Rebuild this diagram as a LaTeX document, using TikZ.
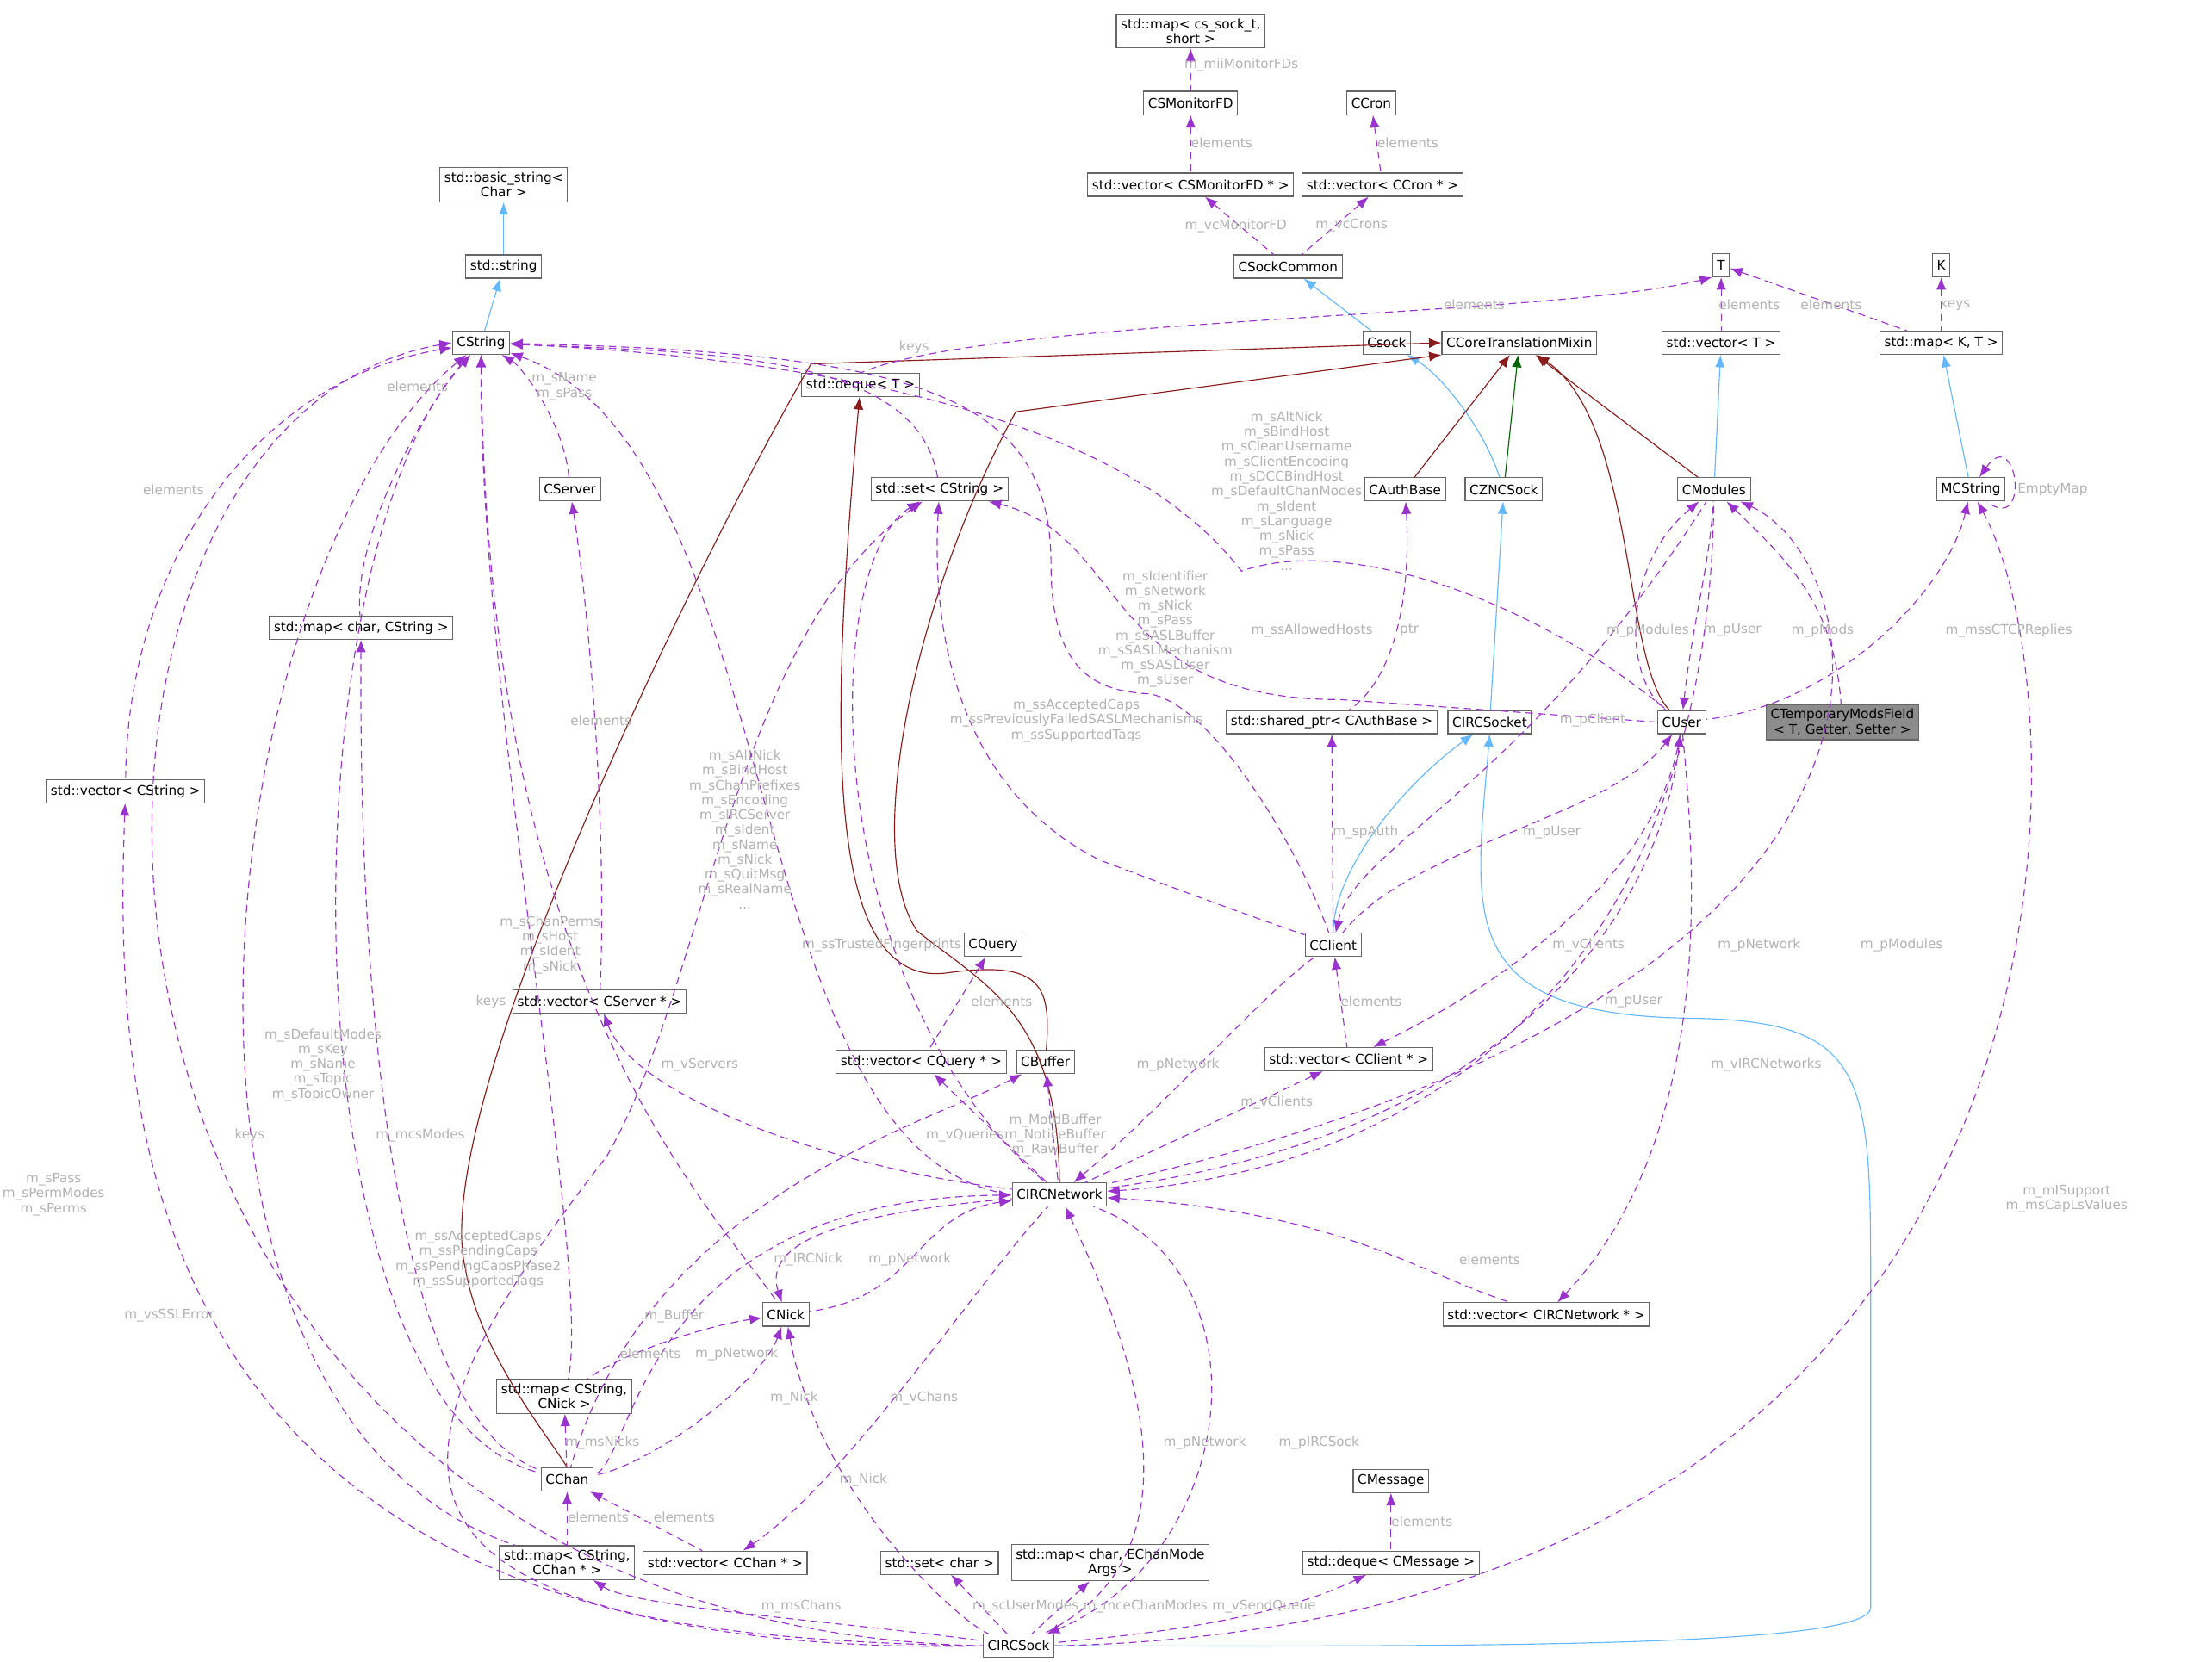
\documentclass[tikz,border=0pt]{standalone}
\usepackage{fontspec}
\setmainfont{DejaVu Sans}
\usetikzlibrary{arrows.meta}
\definecolor{usecol}{HTML}{9A32CD}
\definecolor{inhcol}{HTML}{63B8FF}
\definecolor{tplcol}{HTML}{8B1A1A}
\definecolor{grncol}{HTML}{006400}
\tikzset{
  cls/.style={draw=black!60, fill=white, font=\fontsize{5.3}{6}\selectfont, inner sep=1.8pt, minimum height=0.33cm, align=center},
  lbl/.style={text=black!30, font=\fontsize{5.3}{6}\selectfont, align=center, inner sep=0.5pt},
  tip/.style={{Latex[length=5pt,width=4pt]}-},
  use/.style={tip, usecol, dashed, dash pattern=on 3pt off 2pt, thin},
  inh/.style={tip, inhcol, thin},
  tpl/.style={tip, tplcol, thin},
}
\begin{document}
\begin{tikzpicture}[x=0.02cm, y=-0.02cm]
  \useasboundingbox (0,0) rectangle (1568,1178);

  % classes
  \node[cls] (mapcs) at (844,22) {std::map< cs\_sock\_t,\\ short >};
  \node[cls] (monfd) at (844,73) {CSMonitorFD};
  \node[cls] (ccron) at (972,73) {CCron};
  \node[cls] (vecmon) at (844,131) {std::vector< CSMonitorFD * >};
  \node[cls] (veccron) at (980,131) {std::vector< CCron * >};
  \node[cls] (sockcommon) at (913,189) {CSockCommon};
  \node[cls] (T) at (1220,188) {T};
  \node[cls] (K) at (1376,188) {K};
  \node[cls] (basic) at (357,131) {std::basic\_string<\\ Char >};
  \node[cls] (stdstr) at (357,189) {std::string};
  \node[cls] (cstring) at (341,243) {CString};
  \node[cls] (csock) at (983,243) {Csock};
  \node[cls] (ccore) at (1077,243) {CCoreTranslationMixin};
  \node[cls] (vect) at (1220,243) {std::vector< T >};
  \node[cls] (mapkt) at (1376,243) {std::map< K, T >};
  \node[cls] (deque) at (610,273) {std::deque< T >};
  \node[cls] (setcs) at (666,347) {std::set< CString >};
  \node[cls] (cserver) at (404,347) {CServer};
  \node[cls] (authbase) at (996,347) {CAuthBase};
  \node[cls] (zncsock) at (1066,347) {CZNCSock};
  \node[cls] (cmodules) at (1215,347) {CModules};
  \node[cls] (mcstring) at (1397,347) {MCString};
  \node[cls] (mapchcs) at (256,445) {std::map< char, CString >};
  \node[cls] (sharedptr) at (944,512) {std::shared\_ptr< CAuthBase >};
  \node[cls] (ircsocket) at (1056,512) {CIRCSocket};
  \node[cls] (cuser) at (1192,512) {CUser};
  \node[cls, fill=black!45] (tempmods) at (1306,512) {CTemporaryModsField\\< T, Getter, Setter >};
  \node[cls] (veccs) at (89,561) {std::vector< CString >};
  \node[cls] (cclient) at (945,670) {CClient};
  \node[cls] (cquery) at (704,670) {CQuery};
  \node[cls] (vecserver) at (425,710) {std::vector< CServer * >};
  \node[cls] (vecquery) at (653,753) {std::vector< CQuery * >};
  \node[cls] (cbuffer) at (741,753) {CBuffer};
  \node[cls] (vecclient) at (956,751) {std::vector< CClient * >};
  \node[cls] (network) at (751,847) {CIRCNetwork};
  \node[cls] (cnick) at (557,932) {CNick};
  \node[cls] (vecnet) at (1096,932) {std::vector< CIRCNetwork * >};
  \node[cls] (mapnick) at (400,990) {std::map< CString,\\ CNick >};
  \node[cls] (cchan) at (402,1049) {CChan};
  \node[cls] (cmessage) at (986,1050) {CMessage};
  \node[cls] (mapchan) at (402,1108) {std::map< CString,\\ CChan * >};
  \node[cls] (vecchan) at (514,1108) {std::vector< CChan * >};
  \node[cls] (setchar) at (666,1108) {std::set< char >};
  \node[cls] (mapmode) at (787,1108) {std::map< char, EChanMode\\ Args >};
  \node[cls] (dequemsg) at (986,1108) {std::deque< CMessage >};
  \node[cls] (ircsock) at (722,1167) {CIRCSock};

  % inheritance
  \draw[inh] (basic) -- (stdstr);
  \draw[inh] (stdstr) -- (cstring);
  \draw[inh] (sockcommon) -- (csock);
  \draw[inh] (csock) .. controls (1020,265) and (1050,300) .. (zncsock);
  \draw[inh] (zncsock) -- (ircsocket);
  \draw[inh] (vect) -- (cmodules);
  \draw[inh] (mapkt) -- (mcstring);
  \draw[inh] (ircsocket) .. controls (990,560) and (945,620) .. (cclient);
  \draw[inh] (ircsocket.south) .. controls (1045,650) and (1030,720) .. (1200,722)
    .. controls (1320,724) and (1326,760) .. (1326,900) -- (1326,1140)
    .. controls (1326,1170) and (1000,1167) .. (ircsock.east);
  \draw[tip, grncol, thin] (ccore) -- (zncsock);

  % template instances
  \draw[tpl] (ccore) -- (authbase);
  \draw[tpl] (ccore) -- (cmodules);
  \draw[tpl] (ccore) .. controls (1160,300) and (1150,470) .. (cuser);
  \draw[tpl] (ccore.south west) -- (720,292) .. controls (650,420) and (610,600) .. (650,660)
    .. controls (700,700) and (750,720) .. (network.north);
  \draw[tpl] (ccore.west) -- (575,258) .. controls (520,350) and (300,780) .. (330,900)
    .. controls (340,960) and (390,1020) .. (cchan.north);
  \draw[tpl] (deque) .. controls (590,500) and (580,700) .. (670,690)
    .. controls (740,680) and (745,700) .. (cbuffer);

  % usage
  \draw[use] (mapcs) -- (monfd);
  \draw[use] (monfd) -- (vecmon);
  \draw[use] (ccron) -- (veccron);
  \draw[use] (vecmon) -- (sockcommon);
  \draw[use] (veccron) -- (sockcommon);
  \draw[use] (T) -- (vect);
  \draw[use] (T) -- (mapkt);
  \draw[use] (K) -- (mapkt);
  \draw[use] (T.south west) .. controls (1100,225) and (700,225) .. (deque.north);
  \draw[use] (cstring) .. controls (500,250) and (650,250) .. (setcs);
  \draw[use] (cstring) .. controls (370,260) and (400,300) .. (cserver);
  \draw[use] (cstring) .. controls (300,290) and (250,380) .. (mapchcs);
  \draw[use] (cstring) .. controls (180,270) and (90,400) .. (veccs);
  \draw[use] (cstring) .. controls (600,255) and (800,300) .. (880,405)
    .. controls (950,380) and (1080,420) .. (cuser);
  \draw[use] (cstring) .. controls (650,250) and (745,280) .. (745,400)
    .. controls (745,480) and (780,490) .. (815,492) .. controls (860,500) and (920,600) .. (cclient);
  \draw[use] (cstring) .. controls (560,320) and (520,820) .. (network.west);
  \draw[use] (cstring) .. controls (345,700) and (500,850) .. (cnick);
  \draw[use] (cstring) .. controls (200,400) and (200,1000) .. (cchan);
  \draw[use] (cstring) .. controls (340,500) and (420,900) .. (mapnick);
  \draw[use] (cstring) .. controls (150,400) and (80,1000) .. (mapchan);
  \draw[use] (cstring.west) .. controls (-10,300) and (0,1150) .. (ircsock.west);
  \draw[use] (setcs) .. controls (800,380) and (780,496) .. (950,496) -- (cuser.west);
  \draw[use] (setcs) .. controls (660,450) and (680,560) .. (780,610) .. controls (860,640) .. (cclient);
  \draw[use] (setcs) .. controls (580,400) and (580,700) .. (network);
  \draw[use] (setcs) .. controls (520,450) and (500,700) .. (430,820) .. controls (250,1050) and (250,1160) .. (ircsock.west);
  \draw[use] (cserver) .. controls (420,450) and (430,600) .. (vecserver);
  \draw[use] (authbase) .. controls (1000,420) and (990,480) .. (sharedptr);
  \draw[use] (sharedptr) -- (cclient);
  \draw[use] (cmodules) .. controls (1150,400) and (1150,480) .. (cuser);
  \draw[use] (cuser) .. controls (1200,440) and (1212,400) .. (cmodules);
  \draw[use] (cmodules) .. controls (1270,400) and (1300,430) .. (tempmods);
  \draw[use] (cclient) .. controls (960,600) and (1080,560) .. (cmodules);
  \draw[use] (cmodules) .. controls (1330,400) and (1400,700) .. (network);
  \draw[use] (network) .. controls (1000,830) and (1210,700) .. (cmodules);
  \draw[use] (mcstring) .. controls (1430,300) and (1440,380) .. (mcstring);
  \draw[use] (mcstring) .. controls (1380,420) and (1300,500) .. (cuser);
  \draw[use] (mcstring) .. controls (1480,500) and (1500,1150) .. (ircsock.east);
  \draw[use] (cuser) .. controls (1140,580) and (1000,600) .. (cclient);
  \draw[use] (cuser) .. controls (1180,620) and (1100,800) .. (network);
  \draw[use] (cclient) -- (vecclient);
  \draw[use] (vecclient) .. controls (1100,680) and (1180,600) .. (cuser);
  \draw[use] (vecclient) -- (network);
  \draw[use] (vecnet) .. controls (1220,800) and (1200,600) .. (cuser);
  \draw[use] (network) .. controls (950,860) and (1000,900) .. (vecnet);
  \draw[use] (network) .. controls (830,780) and (900,700) .. (cclient);
  \draw[use] (cquery) -- (vecquery);
  \draw[use] (vecquery) -- (network);
  \draw[use] (vecserver) .. controls (450,780) and (600,830) .. (network);
  \draw[use] (cbuffer) -- (network);
  \draw[use] (cbuffer) .. controls (650,800) and (460,850) .. (cchan);
  \draw[use] (cnick) .. controls (540,880) and (600,860) .. (network);
  \draw[use] (network) .. controls (650,860) and (650,920) .. (cnick);
  \draw[use] (cnick) .. controls (500,940) and (440,960) .. (mapnick);
  \draw[use] (cnick) .. controls (540,980) and (460,1040) .. (cchan);
  \draw[use] (cnick) .. controls (580,1060) and (680,1150) .. (ircsock);
  \draw[use] (network) .. controls (450,850) and (450,1040) .. (cchan);
  \draw[use] (network) .. controls (800,950) and (860,1100) .. (ircsock);
  \draw[use] (ircsock) .. controls (880,1100) and (900,900) .. (network);
  \draw[use] (vecchan) .. controls (600,1050) and (700,900) .. (network);
  \draw[use] (mapchcs) .. controls (255,600) and (260,1000) .. (cchan);
  \draw[use] (mapnick) -- (cchan);
  \draw[use] (cchan) -- (mapchan);
  \draw[use] (cchan) -- (vecchan);
  \draw[use] (veccs) .. controls (80,800) and (100,1180) .. (ircsock.west);
  \draw[use] (mapchan) .. controls (450,1140) and (600,1150) .. (ircsock);
  \draw[use] (setchar) -- (ircsock);
  \draw[use] (mapmode) -- (ircsock);
  \draw[use] (dequemsg) .. controls (900,1150) and (800,1160) .. (ircsock);
  \draw[use] (cmessage) -- (dequemsg);

  % edge labels
  \node[lbl] (l01) at (880,46) {m\_miiMonitorFDs};
  \node[lbl] (l02) at (866,101) {elements};
  \node[lbl] (l03) at (998,101) {elements};
  \node[lbl] (l04) at (876,160) {m\_vcMonitorFD};
  \node[lbl] (l05) at (958,160) {m\_vcCrons};
  \node[lbl] (l06) at (1240,216) {elements};
  \node[lbl] (l07) at (1298,216) {elements};
  \node[lbl] (l08) at (1386,216) {keys};
  \node[lbl] (l09) at (1045,216) {elements};
  \node[lbl] (l10) at (648,246) {keys};
  \node[lbl] (l11) at (400,274) {m\_sName\\m\_sPass};
  \node[lbl] (l12) at (296,274) {elements};
  \node[lbl] (l13) at (123,347) {elements};
  \node[lbl] (l14) at (912,348) {m\_sAltNick\\m\_sBindHost\\m\_sCleanUsername\\m\_sClientEncoding\\m\_sDCCBindHost\\m\_sDefaultChanModes\\m\_sIdent\\m\_sLanguage\\m\_sNick\\m\_sPass\\...};
  \node[lbl] (l15) at (826,446) {m\_sIdentifier\\m\_sNetwork\\m\_sNick\\m\_sPass\\m\_sSASLBuffer\\m\_sSASLMechanism\\m\_sSASLUser\\m\_sUser};
  \node[lbl] (l16) at (763,511) {m\_ssAcceptedCaps\\m\_ssPreviouslyFailedSASLMechanisms\\m\_ssSupportedTags};
  \node[lbl] (l17) at (528,588) {m\_sAltNick\\m\_sBindHost\\m\_sChanPrefixes\\m\_sEncoding\\m\_sIRCServer\\m\_sIdent\\m\_sName\\m\_sNick\\m\_sQuitMsg\\m\_sRealName\\...};
  \node[lbl] (l18) at (390,670) {m\_sChanPerms\\m\_sHost\\m\_sIdent\\m\_sNick};
  \node[lbl] (l19) at (625,670) {m\_ssTrustedFingerprints};
  \node[lbl] (l20) at (426,511) {elements};
  \node[lbl] (l21) at (930,447) {m\_ssAllowedHosts};
  \node[lbl] (l22) at (999,447) {ptr};
  \node[lbl] (l23) at (1168,447) {m\_pModules};
  \node[lbl] (l24) at (1228,447) {m\_pUser};
  \node[lbl] (l25) at (1292,447) {m\_pMods};
  \node[lbl] (l26) at (1424,447) {m\_mssCTCPReplies};
  \node[lbl] (l27) at (1455,347) {EmptyMap};
  \node[lbl] (l28) at (1129,511) {m\_pClient};
  \node[lbl] (l29) at (968,590) {m\_spAuth};
  \node[lbl] (l30) at (1100,590) {m\_pUser};
  \node[lbl] (l31) at (1126,670) {m\_vClients};
  \node[lbl] (l32) at (1247,670) {m\_pNetwork};
  \node[lbl] (l33) at (1348,670) {m\_pModules};
  \node[lbl] (l34) at (1158,710) {m\_pUser};
  \node[lbl] (l35) at (972,710) {elements};
  \node[lbl] (l36) at (710,710) {elements};
  \node[lbl] (l37) at (1252,755) {m\_vIRCNetworks};
  \node[lbl] (l38) at (835,755) {m\_pNetwork};
  \node[lbl] (l39) at (905,782) {m\_vClients};
  \node[lbl] (l40) at (496,755) {m\_vServers};
  \node[lbl] (l41) at (684,805) {m\_vQueries};
  \node[lbl] (l42) at (748,805) {m\_MotdBuffer\\m\_NoticeBuffer\\m\_RawBuffer};
  \node[lbl] (l43) at (229,755) {m\_sDefaultModes\\m\_sKey\\m\_sName\\m\_sTopic\\m\_sTopicOwner};
  \node[lbl] (l44) at (348,710) {keys};
  \node[lbl] (l45) at (177,805) {keys};
  \node[lbl] (l46) at (298,805) {m\_mcsModes};
  \node[lbl] (l47) at (38,847) {m\_sPass\\m\_sPermModes\\m\_sPerms};
  \node[lbl] (l48) at (120,933) {m\_vsSSLError};
  \node[lbl] (l49) at (339,893) {m\_ssAcceptedCaps\\m\_ssPendingCaps\\m\_ssPendingCapsPhase2\\m\_ssSupportedTags};
  \node[lbl] (l50) at (478,933) {m\_Buffer};
  \node[lbl] (l51) at (461,960) {elements};
  \node[lbl] (l52) at (522,960) {m\_pNetwork};
  \node[lbl] (l53) at (573,893) {m\_IRCNick};
  \node[lbl] (l54) at (645,893) {m\_pNetwork};
  \node[lbl] (l55) at (563,991) {m\_Nick};
  \node[lbl] (l56) at (655,991) {m\_vChans};
  \node[lbl] (l57) at (612,1049) {m\_Nick};
  \node[lbl] (l58) at (427,1023) {m\_msNicks};
  \node[lbl] (l59) at (424,1076) {elements};
  \node[lbl] (l60) at (485,1076) {elements};
  \node[lbl] (l61) at (568,1139) {m\_msChans};
  \node[lbl] (l62) at (727,1139) {m\_scUserModes};
  \node[lbl] (l63) at (812,1139) {m\_mceChanModes};
  \node[lbl] (l64) at (896,1139) {m\_vSendQueue};
  \node[lbl] (l65) at (1008,1079) {elements};
  \node[lbl] (l66) at (854,1023) {m\_pNetwork};
  \node[lbl] (l67) at (935,1023) {m\_pIRCSock};
  \node[lbl] (l68) at (1056,893) {elements};
  \node[lbl] (l69) at (1465,850) {m\_mISupport\\m\_msCapLsValues};
\end{tikzpicture}
\end{document}
